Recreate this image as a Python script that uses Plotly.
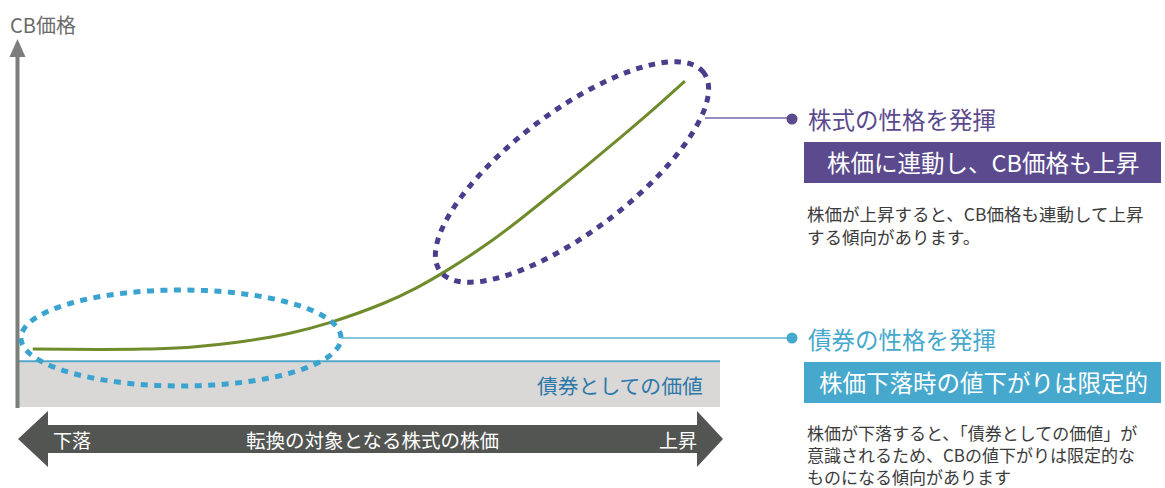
import numpy as np
import plotly.graph_objects as go

# ---------------- data ----------------
stock_price = [2.1, 11.7, 17.8, 24.5, 31.5, 38.7, 44.4, 52.0, 56.7, 61.5, 66.8, 71.5, 76.2, 81.1, 85.8, 90.5, 95.0]
cb_price = [15.8, 15.7, 15.8, 16.3, 17.7, 20.1, 23.0, 28.2, 32.4, 37.7, 44.4, 51.1, 58.3, 65.9, 73.4, 81.1, 88.8]
bond_value = 12.5
stock_axis_max = 100

y_axis_title = "CB価格"
x_axis_title = "転換の対象となる株式の株価"
x_left_label = "下落"
x_right_label = "上昇"
floor_label = "債券としての価値"

stock_title = "株式の性格を発揮"
stock_box = "株価に連動し、CB価格も上昇"
stock_desc = ["株価が上昇すると、CB価格も連動して上昇", "する傾向があります。"]
bond_title = "債券の性格を発揮"
bond_box = "株価下落時の値下がりは限定的"
bond_desc = ["株価が下落すると、「債券としての価値」が", "意識されるため、CBの値下がりは限定的な", "ものになる傾向があります"]

# ---------------- layout helpers ----------------
W, H = 1165, 488
X0_PX, X_SCALE = 18, 7.02      # stock price 0 at px 18, 7.02 px per unit
Y0_PX, Y_SCALE = 407, 3.67     # CB price 0 at px 407, 3.67 px per unit


def px(x):
    return x / W


def py(y):
    return 1 - y / H


def ellipse_path(cx, cy, rx, ry, ang_deg, n=160):
    t = np.linspace(0, 2 * np.pi, n, endpoint=False)
    a = np.deg2rad(ang_deg)
    xs = cx + rx * np.cos(t) * np.cos(a) - ry * np.sin(t) * np.sin(a)
    ys = cy - (rx * np.cos(t) * np.sin(a) + ry * np.sin(t) * np.cos(a))
    pts = [f"{px(x):.5f},{py(y):.5f}" for x, y in zip(xs, ys)]
    return "M " + " L ".join(pts) + " Z"


def poly_path(points):
    return "M " + " L ".join(f"{px(x):.5f},{py(y):.5f}" for x, y in points) + " Z"


FONT = "Noto Sans CJK JP"
PURPLE = "#5b4a8e"
PURPLE_DOT = "#4a3d8c"
CYAN = "#45a8cc"
CYAN_DOT = "#3aa3cf"
GREEN = "#6f8b2b"

fig = go.Figure()

fig.add_trace(go.Scatter(
    x=stock_price, y=cb_price, mode="lines",
    line=dict(color=GREEN, width=3, shape="spline", smoothing=0.8),
    hoverinfo="skip", showlegend=False,
))

shapes = []
# bond floor band
shapes.append(dict(type="rect", xref="x", yref="y", x0=0, x1=stock_axis_max, y0=0, y1=bond_value,
                   fillcolor="#d9d8d7", line=dict(width=0), layer="below"))
shapes.append(dict(type="line", xref="x", yref="y", x0=0, x1=stock_axis_max, y0=bond_value, y1=bond_value,
                   line=dict(color="#55a7cb", width=2)))
# vertical axis arrow
shapes.append(dict(type="line", xref="paper", yref="paper", x0=px(17.5), x1=px(17.5), y0=py(408), y1=py(54),
                   line=dict(color="#7b7f7a", width=4)))
shapes.append(dict(type="path", xref="paper", yref="paper",
                   path=poly_path([(17.5, 39), (9.5, 57), (25.5, 57)]),
                   fillcolor="#7b7f7a", line=dict(width=0)))
# bottom double arrow
shapes.append(dict(type="path", xref="paper", yref="paper",
                   path=poly_path([(18, 439), (48, 411), (48, 425), (697, 425), (697, 411), (723, 439),
                                   (697, 467), (697, 453), (48, 453), (48, 467)]),
                   fillcolor="#535552", line=dict(width=0)))
# ellipses
shapes.append(dict(type="path", xref="paper", yref="paper", path=ellipse_path(181, 338, 160, 48, 0),
                   line=dict(color=CYAN_DOT, width=5, dash="7px,6.5px")))
shapes.append(dict(type="path", xref="paper", yref="paper", path=ellipse_path(572, 172, 165, 60, 37),
                   line=dict(color=PURPLE_DOT, width=5, dash="6.5px,6.5px")))
# callout lines + dots
shapes.append(dict(type="line", xref="paper", yref="paper", x0=px(705), x1=px(790), y0=py(118), y1=py(118),
                   line=dict(color="#7466a8", width=1.3)))
shapes.append(dict(type="circle", xref="paper", yref="paper", x0=px(786.5), x1=px(797.5), y0=py(124.5), y1=py(113.5),
                   fillcolor=PURPLE, line=dict(width=0)))
shapes.append(dict(type="line", xref="paper", yref="paper", x0=px(341), x1=px(790), y0=py(338), y1=py(338),
                   line=dict(color="#5cb3d6", width=1.3)))
shapes.append(dict(type="circle", xref="paper", yref="paper", x0=px(786.5), x1=px(797.5), y0=py(343.5), y1=py(332.5),
                   fillcolor=CYAN, line=dict(width=0)))
# text boxes
shapes.append(dict(type="rect", xref="paper", yref="paper", x0=px(804), x1=px(1161), y0=py(183), y1=py(142),
                   fillcolor=PURPLE, line=dict(width=0)))
shapes.append(dict(type="rect", xref="paper", yref="paper", x0=px(804), x1=px(1161), y0=py(403), y1=py(362),
                   fillcolor=CYAN, line=dict(width=0)))

ann = []


def text(t, x, y, size, color, xanchor="left", yanchor="middle"):
    ann.append(dict(text=t, x=px(x), y=py(y), xref="paper", yref="paper", xanchor=xanchor, yanchor=yanchor,
                    showarrow=False, align="left", font=dict(family=FONT, size=size, color=color)))


text(y_axis_title, 8, 24, 20, "#6a6a6a")
text(floor_label, 705, 385, 20.8, "#2d78aa", xanchor="right")
text(x_left_label, 51, 439, 19, "white")
text(x_axis_title, 372, 439, 19.5, "white", xanchor="center")
text(x_right_label, 699, 439, 19, "white", xanchor="right")

text(stock_title, 806, 119, 23.5, PURPLE)
text(stock_box, 983, 162, 23.5, "white", xanchor="center")
text("<br>".join(stock_desc), 805, 199, 17.5, "#3c3c3c", yanchor="top")

text(bond_title, 806, 339, 23.5, CYAN)
text(bond_box, 983, 382, 23.5, "white", xanchor="center")
text("<br>".join(bond_desc), 805, 418, 17, "#3c3c3c", yanchor="top")

fig.update_layout(
    width=W, height=H, margin=dict(l=0, r=0, t=0, b=0),
    paper_bgcolor="white", plot_bgcolor="white",
    xaxis=dict(range=[(0 - X0_PX) / X_SCALE, (W - X0_PX) / X_SCALE], visible=False, fixedrange=True),
    yaxis=dict(range=[(Y0_PX - H) / Y_SCALE, Y0_PX / Y_SCALE], visible=False, fixedrange=True),
    shapes=shapes, annotations=ann, showlegend=False,
)

fig.write_html("out.html", config={"displayModeBar": False},
               post_script="document.body.style.margin='0';document.body.style.overflow='hidden';")
